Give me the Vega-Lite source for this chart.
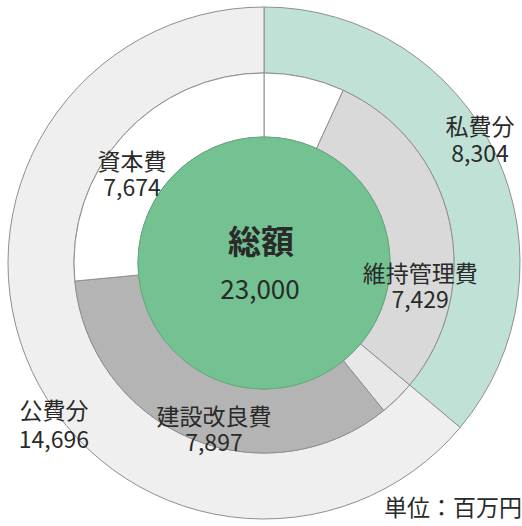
{
  "$schema": "https://vega.github.io/schema/vega-lite/v6.json",
  "width": 522,
  "height": 526,
  "autosize": {"type": "fit", "contains": "padding"},
  "padding": {"left": 6, "top": 0, "right": 0, "bottom": 0},
  "background": "white",
  "view": {"stroke": null},
  "config": {"text": {"font": "Noto Sans CJK JP", "color": "#2a2a2a"}},
  "datasets": {
    "outer": [
      {"seg": "私費分", "value": 8304, "order": 1, "label": "私費分\n8,304"},
      {"seg": "公費分", "value": 14696, "order": 2, "label": "公費分\n14,696"}
    ],
    "middle": [
      {"seg": "資本費・私費", "item": "資本費", "value": 1575, "order": 1, "label": ""},
      {"seg": "維持管理費・私費", "item": "維持管理費", "value": 6729, "order": 2, "label": "維持管理費\n7,429"},
      {"seg": "維持管理費・公費", "item": "維持管理費", "value": 700, "order": 3, "label": ""},
      {"seg": "建設改良費", "item": "建設改良費", "value": 7897, "order": 4, "label": "建設改良費\n7,897"},
      {"seg": "資本費・公費", "item": "資本費", "value": 6099, "order": 5, "label": "資本費\n7,674"}
    ],
    "total": [{"seg": "総額", "value": 23000, "name": "総額", "label": "23,000"}],
    "unit": [{"text": "単位：百万円"}]
  },
  "layer": [
    {
      "data": {"name": "outer"},
      "mark": {"type": "arc", "outerRadius": 256, "innerRadius": 190, "stroke": "#8f8f8f", "strokeWidth": 1},
      "encoding": {
        "theta": {"field": "value", "type": "quantitative", "stack": true},
        "order": {"field": "order", "type": "quantitative"},
        "color": {"field": "seg", "type": "nominal", "legend": null,
          "scale": {"domain": ["私費分", "公費分", "資本費・私費", "維持管理費・私費", "維持管理費・公費", "建設改良費", "資本費・公費", "総額"],
                    "range": ["#c0e2d6", "#efefef", "#ffffff", "#d9d9d9", "#e8e8e8", "#b4b4b4", "#ffffff", "#74c292"]}}
      }
    },
    {
      "data": {"name": "middle"},
      "mark": {"type": "arc", "outerRadius": 190, "innerRadius": 126, "stroke": "#8f8f8f", "strokeWidth": 1},
      "encoding": {
        "theta": {"field": "value", "type": "quantitative", "stack": true},
        "order": {"field": "order", "type": "quantitative"},
        "color": {"field": "seg", "type": "nominal", "legend": null,
          "scale": {"domain": ["私費分", "公費分", "資本費・私費", "維持管理費・私費", "維持管理費・公費", "建設改良費", "資本費・公費", "総額"],
                    "range": ["#c0e2d6", "#efefef", "#ffffff", "#d9d9d9", "#e8e8e8", "#b4b4b4", "#ffffff", "#74c292"]}}
      }
    },
    {
      "data": {"name": "total"},
      "mark": {"type": "arc", "outerRadius": 126, "stroke": "#62a97d", "strokeWidth": 1},
      "encoding": {
        "theta": {"field": "value", "type": "quantitative", "stack": true},
        "color": {"field": "seg", "type": "nominal", "legend": null,
          "scale": {"domain": ["私費分", "公費分", "資本費・私費", "維持管理費・私費", "維持管理費・公費", "建設改良費", "資本費・公費", "総額"],
                    "range": ["#c0e2d6", "#efefef", "#ffffff", "#d9d9d9", "#e8e8e8", "#b4b4b4", "#ffffff", "#74c292"]}}
      }
    },
    {
      "data": {"name": "middle"},
      "mark": {"type": "text", "radius": 158, "dx": -15, "dy": 6, "lineBreak": "\n", "lineHeight": 26, "fontSize": 23, "align": "center", "baseline": "middle"},
      "encoding": {
        "theta": {"field": "value", "type": "quantitative", "stack": true},
        "order": {"field": "order", "type": "quantitative"},
        "text": {"condition": {"test": "datum.seg === '資本費・公費'", "field": "label"}, "value": ""}
      }
    },
    {
      "data": {"name": "middle"},
      "mark": {"type": "text", "radius": 158, "dx": 2, "dy": 47, "lineBreak": "\n", "lineHeight": 26, "fontSize": 23, "align": "center", "baseline": "middle"},
      "encoding": {
        "theta": {"field": "value", "type": "quantitative", "stack": true},
        "order": {"field": "order", "type": "quantitative"},
        "text": {"condition": {"test": "datum.seg === '維持管理費・私費'", "field": "label"}, "value": ""}
      }
    },
    {
      "data": {"name": "middle"},
      "mark": {"type": "text", "radius": 158, "dx": 11, "dy": 9, "lineBreak": "\n", "lineHeight": 26, "fontSize": 23, "align": "center", "baseline": "middle"},
      "encoding": {
        "theta": {"field": "value", "type": "quantitative", "stack": true},
        "order": {"field": "order", "type": "quantitative"},
        "text": {"condition": {"test": "datum.seg === '建設改良費'", "field": "label"}, "value": ""}
      }
    },
    {
      "data": {"name": "outer"},
      "mark": {"type": "text", "radius": 223, "dx": 14, "dy": -41, "lineBreak": "\n", "lineHeight": 27, "fontSize": 23, "align": "center", "baseline": "middle"},
      "encoding": {
        "theta": {"field": "value", "type": "quantitative", "stack": true},
        "order": {"field": "order", "type": "quantitative"},
        "text": {"condition": {"test": "datum.seg === '私費分'", "field": "label"}, "value": ""}
      }
    },
    {
      "data": {"name": "outer"},
      "mark": {"type": "text", "radius": 223, "dx": -8, "dy": 55, "lineBreak": "\n", "lineHeight": 29, "fontSize": 23, "align": "center", "baseline": "middle"},
      "encoding": {
        "theta": {"field": "value", "type": "quantitative", "stack": true},
        "order": {"field": "order", "type": "quantitative"},
        "text": {"condition": {"test": "datum.seg === '公費分'", "field": "label"}, "value": ""}
      }
    },
    {
      "data": {"name": "total"},
      "mark": {"type": "text", "dx": -3, "dy": -19, "fontSize": 33, "fontWeight": "bold", "align": "center", "baseline": "middle"},
      "encoding": {"text": {"field": "name"}}
    },
    {
      "data": {"name": "total"},
      "mark": {"type": "text", "dx": -4, "dy": 28, "fontSize": 26, "align": "center", "baseline": "middle"},
      "encoding": {"text": {"field": "label"}}
    },
    {
      "data": {"name": "unit"},
      "mark": {"type": "text", "fontSize": 23, "align": "right", "baseline": "bottom", "dy": -5},
      "encoding": {
        "x": {"value": "width"},
        "y": {"value": "height"},
        "text": {"field": "text"}
      }
    }
  ]
}
